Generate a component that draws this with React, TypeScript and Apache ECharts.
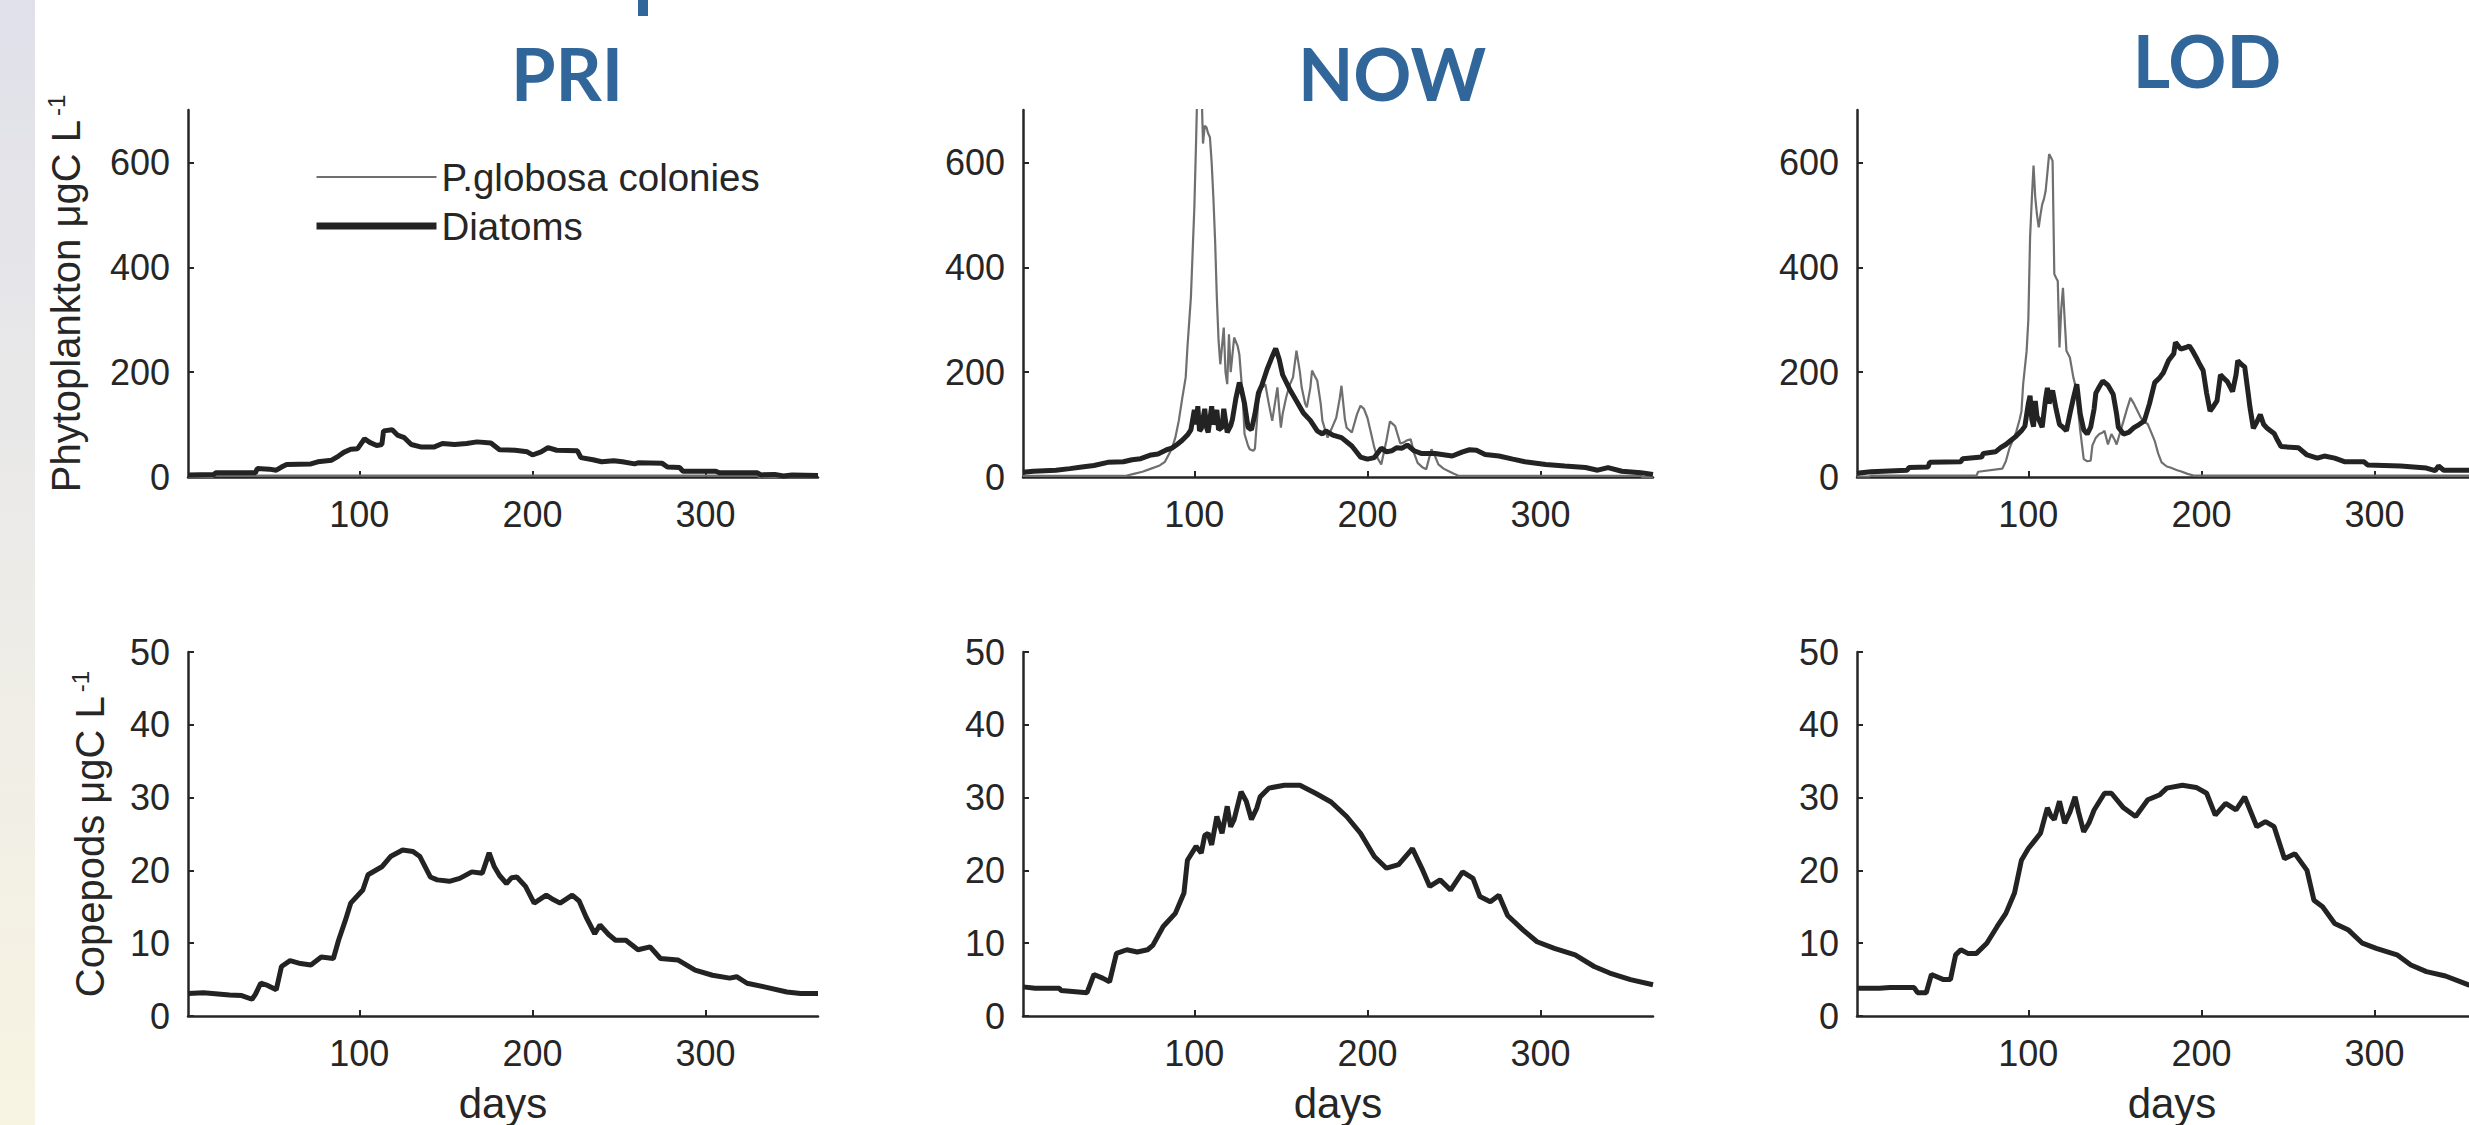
import React, { useEffect, useRef } from "react";
import * as echarts from "echarts";

// ---------- data (day, value) ----------
const SCENARIOS = ["PRI", "NOW", "LOD"];
const X_TICKS = [100, 200, 300];
const PHYTO_TICKS = [0, 200, 400, 600];
const COPE_TICKS = [0, 10, 20, 30, 40, 50];

const priGlobosa = [[1, 0], [15, 0], [16, 2.5], [330, 2.5], [331, 0], [365, 0]];
const priDiatoms = [[1, 4], [16, 5], [17, 8], [40, 8], [41, 16], [48, 15], [52, 13], [55, 19], [58, 24], [72, 25], [76, 29], [84, 32], [88, 40], [91, 47], [95, 53], [99, 54], [103, 73], [106, 66], [110, 60], [113, 62], [114, 88], [119, 90], [122, 80], [126, 75], [130, 62], [136, 57], [143, 57], [148, 64], [155, 62], [162, 64], [168, 67], [176, 65], [181, 52], [190, 51], [197, 48], [200, 42], [205, 48], [209, 56], [214, 51], [226, 50], [228, 37], [235, 33], [240, 29], [247, 31], [252, 29], [259, 25], [261, 27], [275, 26], [278, 19], [285, 18], [287, 11], [306, 11], [308, 8], [330, 8], [332, 4], [340, 5], [345, 2], [350, 4], [365, 3]];

const nowGlobosa = [[1, 2], [20, 2], [60, 2], [65, 6], [70, 10], [75, 16], [80, 22], [83, 29], [87, 54], [89, 75], [91, 107], [93, 150], [95, 190], [96, 247], [98, 342], [100, 514], [101, 640], [102, 780], [103, 720], [104, 760], [105, 636], [106, 670], [107, 667], [108, 655], [109, 648], [110, 600], [111, 533], [112, 450], [113, 342], [114, 260], [115, 215], [116, 250], [117, 285], [118, 200], [119, 177], [120, 272], [121, 200], [123, 266], [125, 250], [126, 234], [128, 150], [129, 82], [131, 60], [132, 53], [134, 50], [135, 54], [137, 145], [139, 170], [141, 177], [143, 140], [145, 107], [147, 150], [148, 171], [149, 130], [150, 94], [151, 120], [153, 151], [155, 175], [157, 190], [159, 241], [161, 200], [162, 171], [164, 140], [165, 133], [167, 170], [168, 203], [170, 190], [171, 184], [173, 140], [174, 107], [176, 85], [177, 75], [179, 90], [182, 113], [184, 150], [185, 174], [187, 110], [188, 94], [191, 85], [194, 120], [196, 136], [198, 130], [200, 113], [202, 85], [204, 56], [206, 35], [208, 24], [211, 70], [213, 106], [216, 97], [219, 64], [221, 66], [223, 70], [225, 72], [227, 45], [229, 27], [232, 18], [234, 15], [237, 53], [239, 40], [241, 24], [244, 16], [247, 11], [250, 6], [253, 2], [358, 2], [359, 0], [365, 0]];
const nowDiatoms = [[1, 9], [7, 11], [20, 13], [28, 16], [35, 19], [42, 22], [50, 28], [59, 29], [64, 33], [69, 35], [75, 42], [79, 44], [84, 52], [87, 55], [90, 62], [93, 70], [96, 80], [98, 90], [100, 128], [101, 100], [102, 135], [103, 88], [104, 92], [106, 130], [107, 95], [108, 85], [110, 135], [111, 100], [113, 128], [114, 90], [116, 95], [117, 130], [119, 85], [121, 98], [122, 110], [124, 150], [126, 180], [127, 170], [129, 140], [131, 95], [133, 90], [135, 120], [137, 160], [139, 175], [142, 205], [145, 230], [147, 245], [149, 225], [151, 195], [155, 168], [159, 145], [163, 122], [167, 108], [171, 88], [174, 82], [176, 88], [180, 80], [185, 75], [191, 59], [196, 38], [200, 34], [204, 37], [208, 55], [211, 48], [214, 50], [217, 56], [220, 55], [223, 61], [227, 50], [231, 45], [239, 45], [249, 40], [255, 48], [259, 52], [263, 51], [268, 43], [276, 40], [284, 34], [291, 29], [303, 24], [314, 21], [326, 18], [333, 13], [339, 18], [347, 11], [358, 8], [365, 5]];

const lodGlobosa = [[1, 1], [8, 1], [9, 2.5], [70, 2.5], [71, 10], [85, 16], [87, 30], [89, 54], [91, 70], [93, 86], [95, 110], [96, 125], [97, 177], [99, 240], [100, 300], [101, 457], [102, 530], [103, 594], [104, 533], [105, 500], [106, 476], [107, 500], [108, 520], [109, 530], [110, 546], [111, 580], [112, 616], [113, 610], [114, 603], [115, 387], [116, 380], [117, 374], [118, 247], [119, 320], [120, 361], [121, 300], [122, 241], [124, 228], [126, 190], [127, 177], [129, 120], [130, 88], [132, 34], [134, 30], [136, 31], [137, 60], [139, 75], [141, 82], [143, 85], [144, 88], [146, 62], [148, 82], [150, 70], [151, 62], [153, 85], [155, 107], [157, 130], [159, 151], [161, 140], [162, 133], [165, 113], [167, 105], [169, 101], [171, 85], [173, 69], [175, 45], [177, 28], [180, 20], [182, 18], [186, 13], [188, 11], [192, 6], [196, 2.5], [365, 2.5]];
const lodDiatoms = [[1, 7], [9, 10], [30, 13], [31, 18], [42, 19], [43, 28], [61, 29], [62, 35], [73, 38], [74, 45], [81, 48], [84, 56], [87, 62], [90, 70], [93, 78], [96, 88], [98, 97], [100, 140], [101, 155], [102, 110], [103, 96], [104, 145], [105, 115], [106, 110], [108, 95], [110, 150], [111, 170], [112, 140], [114, 165], [116, 130], [118, 100], [120, 95], [122, 88], [124, 120], [126, 150], [128, 177], [130, 120], [132, 90], [134, 82], [136, 95], [138, 130], [139, 160], [141, 172], [143, 183], [146, 175], [149, 158], [151, 120], [152, 95], [155, 82], [158, 85], [161, 94], [164, 100], [167, 107], [170, 140], [173, 180], [176, 190], [178, 199], [181, 222], [184, 235], [185, 257], [188, 244], [191, 247], [193, 250], [195, 240], [197, 228], [199, 215], [201, 203], [203, 160], [205, 126], [207, 135], [209, 145], [211, 195], [213, 188], [215, 182], [218, 163], [220, 195], [221, 222], [223, 215], [225, 210], [227, 160], [228, 134], [230, 93], [232, 105], [234, 119], [236, 100], [238, 93], [242, 83], [244, 70], [246, 58], [256, 56], [261, 42], [267, 36], [271, 40], [277, 36], [283, 29], [294, 29], [296, 23], [315, 21], [330, 17], [335, 12], [337, 21], [340, 13], [353, 13], [365, 12]];

const priCopepods = [[1, 3.1], [10, 3.2], [20, 3.0], [25, 2.9], [32, 2.8], [38, 2.3], [40, 3.0], [43, 4.5], [47, 4.2], [52, 3.6], [55, 6.8], [60, 7.6], [66, 7.2], [72, 7.0], [78, 8.1], [85, 7.9], [88, 10.4], [92, 13.2], [95, 15.5], [102, 17.3], [105, 19.4], [113, 20.5], [118, 21.9], [125, 22.8], [131, 22.6], [135, 21.9], [141, 19.1], [145, 18.7], [152, 18.5], [158, 18.9], [165, 19.8], [171, 19.6], [175, 22.4], [178, 20.5], [181, 19.3], [185, 18.2], [188, 19.0], [191, 19.1], [196, 17.8], [201, 15.5], [208, 16.6], [212, 16.0], [216, 15.5], [223, 16.6], [227, 15.8], [231, 13.6], [236, 11.3], [239, 12.5], [244, 11.2], [248, 10.4], [254, 10.4], [261, 9.1], [268, 9.5], [274, 7.9], [284, 7.7], [294, 6.3], [304, 5.6], [314, 5.2], [318, 5.4], [324, 4.5], [334, 4.0], [347, 3.3], [355, 3.1], [365, 3.1]];
const nowCopepods = [[1, 4.0], [8, 3.8], [22, 3.8], [23, 3.5], [38, 3.2], [42, 5.7], [47, 5.2], [51, 4.7], [55, 8.6], [61, 9.1], [67, 8.8], [73, 9.1], [76, 9.7], [82, 12.3], [89, 14.1], [94, 16.9], [96, 21.4], [101, 23.3], [104, 22.4], [106, 24.8], [108, 25.1], [110, 23.5], [113, 27.4], [116, 25.1], [119, 28.8], [121, 26.0], [123, 27.0], [127, 30.8], [130, 29.5], [133, 27.0], [136, 28.5], [138, 30.1], [143, 31.3], [152, 31.7], [161, 31.7], [170, 30.6], [179, 29.4], [188, 27.4], [196, 25.1], [204, 21.9], [211, 20.3], [218, 20.8], [226, 23.0], [232, 20.0], [236, 17.8], [242, 18.7], [248, 17.3], [255, 19.8], [261, 18.9], [265, 16.4], [271, 15.7], [276, 16.6], [281, 13.8], [290, 11.8], [298, 10.2], [308, 9.3], [320, 8.4], [331, 6.8], [340, 5.9], [352, 5.0], [365, 4.3]];
const lodCopepods = [[1, 3.8], [14, 3.8], [20, 3.9], [34, 3.9], [36, 3.2], [41, 3.2], [44, 5.7], [51, 5.0], [55, 5.0], [58, 8.4], [61, 9.1], [65, 8.6], [70, 8.6], [76, 10.0], [82, 12.3], [87, 14.1], [92, 16.9], [96, 21.4], [100, 23.0], [104, 24.2], [107, 25.1], [111, 28.6], [113, 27.5], [115, 27.0], [118, 29.5], [121, 26.5], [124, 28.0], [127, 30.1], [129, 28.0], [132, 25.3], [135, 26.5], [138, 28.3], [144, 30.6], [148, 30.6], [155, 28.6], [162, 27.4], [169, 29.7], [176, 30.4], [180, 31.3], [189, 31.7], [197, 31.4], [203, 30.6], [208, 27.6], [214, 29.2], [220, 28.3], [225, 30.1], [232, 26.0], [237, 26.7], [242, 26.0], [248, 21.6], [254, 22.3], [261, 20.0], [265, 15.9], [270, 15.0], [277, 12.7], [285, 11.8], [293, 10.0], [301, 9.3], [313, 8.4], [321, 7.0], [330, 6.1], [341, 5.5], [354, 4.3], [365, 3.8]];

const GLOBOSA = [priGlobosa, nowGlobosa, lodGlobosa];
const DIATOMS = [priDiatoms, nowDiatoms, lodDiatoms];
const COPEPODS = [priCopepods, nowCopepods, lodCopepods];

// ---------- layout ----------
const W = 2469;
const H = 1125;
const COL_LEFT = [188, 1023, 1857];
const PANEL_W = 630;
const ROW_TOP = [110, 652];
const ROW_H = [367, 364];
const TITLE_POS = [[567, 73], [1392, 73], [2207, 60]];

const FONT = "'Liberation Sans', Arial, Helvetica, sans-serif";
const INK = "#262626";
const BLUE = "#31669b";

function buildOption() {
  const grid: any[] = [];
  const xAxis: any[] = [];
  const yAxis: any[] = [];
  const series: any[] = [];

  for (let r = 0; r < 2; r++) {
    for (let c = 0; c < 3; c++) {
      const idx = r * 3 + c;
      grid.push({
        left: COL_LEFT[c],
        top: ROW_TOP[r],
        width: PANEL_W,
        height: ROW_H[r],
        containLabel: false,
        outerBoundsMode: "none",
      });
      const axisLine = { show: true, lineStyle: { color: INK, width: 2.5 } };
      const tickStyle = { color: INK, width: 2 };
      xAxis.push({
        type: "value",
        gridIndex: idx,
        min: 1,
        max: 365,
        axisLine,
        axisTick: { show: true, inside: true, length: 6, lineStyle: tickStyle, customValues: X_TICKS },
        axisLabel: { show: true, customValues: X_TICKS, fontSize: 36, color: INK, fontFamily: FONT, margin: 19 },
        splitLine: { show: false },
        name: r === 1 ? "days" : "",
        nameLocation: "middle",
        nameGap: 66,
        nameTextStyle: { fontSize: 42, lineHeight: 42, color: INK, fontFamily: FONT },
      });
      const ticks = r === 0 ? PHYTO_TICKS : COPE_TICKS;
      const yName =
        c === 0
          ? r === 0
            ? "{a|Phytoplankton μgC L}{s|-1}"
            : "{a|Copepods μgC L}{s|-1}"
          : "";
      yAxis.push({
        type: "value",
        gridIndex: idx,
        min: 0,
        max: r === 0 ? 700 : 50,
        axisLine,
        axisTick: { show: true, inside: true, length: 6, lineStyle: tickStyle, customValues: ticks },
        axisLabel: { show: true, customValues: ticks, fontSize: 36, color: INK, fontFamily: FONT, margin: 18 },
        splitLine: { show: false },
        name: yName,
        nameLocation: "middle",
        nameRotate: 90,
        nameGap: r === 0 ? 100 : 76,
        nameTextStyle: {
          color: INK,
          fontFamily: FONT,
          rich: {
            a: { fontSize: 40, lineHeight: 44, color: INK, fontFamily: FONT },
            s: { fontSize: 24, lineHeight: 44, verticalAlign: "top", color: INK, fontFamily: FONT, padding: [0, 0, 14, 4] },
          },
        },
      });

      if (r === 0) {
        series.push({
          type: "line",
          name: "P.globosa colonies",
          xAxisIndex: idx,
          yAxisIndex: idx,
          data: GLOBOSA[c],
          symbol: "none",
          showSymbol: false,
          lineStyle: { color: "#6f6f6f", width: 2.2 },
          itemStyle: { color: "#6f6f6f" },
          z: 2,
        });
        series.push({
          type: "line",
          name: "Diatoms",
          xAxisIndex: idx,
          yAxisIndex: idx,
          data: DIATOMS[c],
          symbol: "none",
          showSymbol: false,
          lineStyle: { color: "#232323", width: 5 },
          itemStyle: { color: "#232323" },
          z: 3,
        });
      } else {
        series.push({
          type: "line",
          name: "Copepods",
          xAxisIndex: idx,
          yAxisIndex: idx,
          data: COPEPODS[c],
          symbol: "none",
          showSymbol: false,
          lineStyle: { color: "#232323", width: 5 },
          itemStyle: { color: "#232323" },
          z: 3,
        });
      }
    }
  }

  const graphic: any[] = [
    {
      type: "rect",
      shape: { x: 0, y: 0, width: 35, height: H },
      style: {
        fill: new echarts.graphic.LinearGradient(0, 0, 0, 1, [
          { offset: 0, color: "#e0e0ea" },
          { offset: 0.5, color: "#ecebe8" },
          { offset: 1, color: "#f8f4e2" },
        ]),
      },
      silent: true,
      z: -10,
    },
    {
      type: "rect",
      shape: { x: 638, y: 0, width: 10, height: 16 },
      style: { fill: BLUE },
      silent: true,
    },
  ];
  SCENARIOS.forEach((s, i) => {
    graphic.push({
      type: "text",
      x: TITLE_POS[i][0],
      y: TITLE_POS[i][1],
      style: {
        text: s,
        fill: BLUE,
        font: "bold 72px Lato, 'Open Sans', sans-serif",
        textAlign: "center",
        textVerticalAlign: "middle",
        verticalAlign: "middle",
      },
      silent: true,
    });
  });

  return {
    animation: false,
    backgroundColor: "#ffffff",
    grid,
    xAxis,
    yAxis,
    series,
    graphic,
    legend: {
      orient: "vertical",
      left: 313,
      top: 157,
      itemWidth: 120,
      itemHeight: 14,
      itemGap: 9,
      selectedMode: false,
      padding: 0,
      textStyle: { fontSize: 38.5, lineHeight: 40, color: INK, fontFamily: FONT },
      itemStyle: { opacity: 0 },
      data: [
        { name: "P.globosa colonies", lineStyle: { width: 2.2, color: "#6f6f6f" } },
        { name: "Diatoms", lineStyle: { width: 7, color: "#232323" } },
      ],
    },
  };
}

export default function App() {
  const ref = useRef<HTMLDivElement>(null);
  useEffect(() => {
    if (!ref.current) return;
    const chart = echarts.init(ref.current, null, { renderer: "svg" });
    chart.setOption(buildOption());
    return () => chart.dispose();
  }, []);
  return (
    <div
      ref={ref}
      style={{ position: "fixed", left: 0, top: 0, width: W, height: H, background: "#fff" }}
    />
  );
}
